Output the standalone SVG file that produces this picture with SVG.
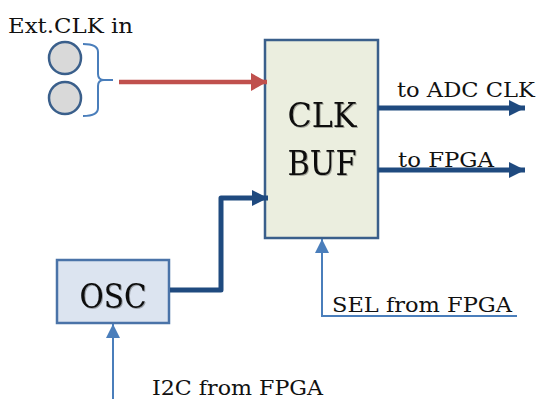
<svg xmlns="http://www.w3.org/2000/svg" width="537" height="399" viewBox="0 0 537 399">
<defs>
<style>
text{font-family:'DejaVu Serif','Liberation Serif',serif;fill:#111;}
.lbl{font-size:21px;}
.big{font-size:33px;}
.thick{fill:none;stroke:#1F4A7F;stroke-width:5;}
.thin{fill:none;stroke:#4A7EBB;stroke-width:2;}
</style>
<marker id="ahRed" markerUnits="userSpaceOnUse" markerWidth="18" markerHeight="20" refX="16" refY="9" orient="auto"><path d="M0,0 L16,9 L0,18 Z" fill="#C0504D"/></marker>
<marker id="ahDark" markerUnits="userSpaceOnUse" markerWidth="18" markerHeight="18" refX="16" refY="8" orient="auto"><path d="M0,0 L16,8 L0,16 Z" fill="#1F4A7F"/></marker>
<marker id="ahLight" markerUnits="userSpaceOnUse" markerWidth="16" markerHeight="16" refX="14" refY="7" orient="auto"><path d="M0,0 L14,7 L0,14 Z" fill="#4A7EBB"/></marker>
<filter id="sh" x="-10%" y="-10%" width="130%" height="130%"><feDropShadow dx="1" dy="1" stdDeviation="0.7" flood-color="#000" flood-opacity="0.3"/></filter>
</defs>
<rect width="537" height="399" fill="#fff"/>

<g id="ext-clk-in">
<text class="lbl" x="8" y="33" textLength="125" lengthAdjust="spacingAndGlyphs">Ext.CLK in</text>
<circle cx="65" cy="58" r="16" fill="#D9D9D9" stroke="#3A5F8B" stroke-width="2.5"/>
<circle cx="65" cy="98" r="16" fill="#D9D9D9" stroke="#3A5F8B" stroke-width="2.5"/>
<path d="M83,44 Q98,44 98,52 L98,74 Q98,80 104,80 L113,80 M104,80 Q98,80 98,86 L98,108 Q98,116 83,116" fill="none" stroke="#4A7EBB" stroke-width="2"/>
</g>

<g id="clk-buf">
<rect x="265" y="40" width="113" height="198" fill="#EBEEDF" stroke="#3A5F8B" stroke-width="2.5"/>
<text class="big" x="322" y="127" text-anchor="middle" filter="url(#sh)" textLength="69" lengthAdjust="spacingAndGlyphs">CLK</text>
<text class="big" x="322" y="175" text-anchor="middle" filter="url(#sh)" textLength="69" lengthAdjust="spacingAndGlyphs">BUF</text>
</g>

<g id="osc">
<rect x="57" y="260" width="112" height="63" fill="#DCE4F0" stroke="#4A73A8" stroke-width="2.5"/>
<text class="big" x="113" y="308" text-anchor="middle" filter="url(#sh)" textLength="67" lengthAdjust="spacingAndGlyphs">OSC</text>
</g>

<g id="connectors">
<line x1="119" y1="82" x2="267" y2="82" stroke="#C0504D" stroke-width="4.5" marker-end="url(#ahRed)"/>
<path class="thick" d="M170,290 L221,290 L221,198 L268,198" stroke-linejoin="round" marker-end="url(#ahDark)"/>
<line class="thick" x1="378" y1="108" x2="525" y2="108" marker-end="url(#ahDark)"/>
<line class="thick" x1="378" y1="170" x2="525" y2="170" marker-end="url(#ahDark)"/>
<line class="thin" x1="113" y1="399" x2="113" y2="324" marker-end="url(#ahLight)"/>
<path class="thin" d="M517,316 L322,316 L322,239" marker-end="url(#ahLight)"/>
</g>

<g id="labels">
<text class="lbl" x="397" y="97" textLength="138" lengthAdjust="spacingAndGlyphs">to ADC CLK</text>
<text class="lbl" x="398" y="167" textLength="96" lengthAdjust="spacingAndGlyphs">to FPGA</text>
<text class="lbl" x="332" y="312" textLength="180" lengthAdjust="spacingAndGlyphs">SEL from FPGA</text>
<text class="lbl" x="152" y="395" textLength="171" lengthAdjust="spacingAndGlyphs">I2C from FPGA</text>
</g>
</svg>
